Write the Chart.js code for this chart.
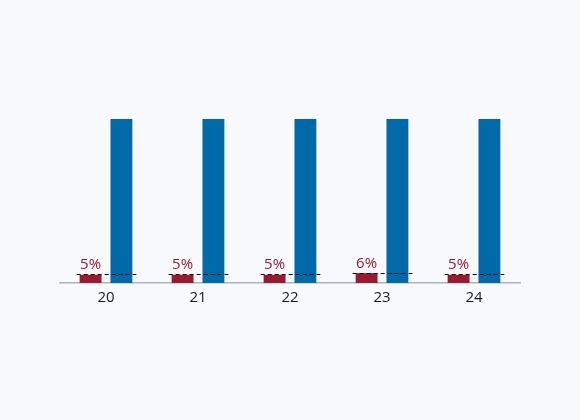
<!DOCTYPE html>
<html>
<head>
<meta charset="utf-8">
<script src="https://cdn.jsdelivr.net/npm/chart.js@4"></script>
<style>
html,body{margin:0;padding:0;background:#f7f9fd;}
#wrap{width:580px;height:420px;}
</style>
</head>
<body>
<div id="wrap"><canvas id="c" width="580" height="420"></canvas></div>
<script>
const categories = ["20", "21", "22", "23", "24"];
const redValues = [5, 5, 5, 6, 5];
const blueValues = [100, 100, 100, 100, 100];
const dashedValues = [5.2, 5.2, 5.3, 6.2, 5.3];
const redLabels = ["5%", "5%", "5%", "6%", "5%"];

const RED = "#9b1a2f";
const BLUE = "#006aa8";

const overlay = {
  id: "overlay",
  afterDatasetsDraw(chart) {
    const ctx = chart.ctx;
    const y = chart.scales.y;
    const redMeta = chart.getDatasetMeta(0);
    const blueMeta = chart.getDatasetMeta(1);
    ctx.save();
    ctx.strokeStyle = "#000";
    ctx.lineWidth = 1;
    ctx.setLineDash([4, 3]);
    dashedValues.forEach((v, i) => {
      const r = redMeta.data[i], b = blueMeta.data[i];
      const x0 = r.x - r.width / 2 - 3;
      const x1 = b.x + b.width / 2 + 4;
      const py = Math.round(y.getPixelForValue(v)) + 0.5;
      ctx.beginPath();
      ctx.moveTo(x0, py);
      ctx.lineTo(x1, py);
      ctx.stroke();
    });
    ctx.setLineDash([]);
    ctx.fillStyle = RED;
    ctx.font = "15px 'Open Sans'";
    ctx.textAlign = "center";
    ctx.textBaseline = "alphabetic";
    redLabels.forEach((t, i) => {
      const r = redMeta.data[i];
      const py = y.getPixelForValue(dashedValues[i]) - 5;
      ctx.fillText(t, r.x, py);
    });
    ctx.restore();
  }
};

new Chart(document.getElementById("c"), {
  type: "bar",
  data: {
    labels: categories,
    datasets: [
      { data: redValues, backgroundColor: RED, categoryPercentage: 0.67, barPercentage: 0.71 },
      { data: blueValues, backgroundColor: BLUE, categoryPercentage: 0.67, barPercentage: 0.71 }
    ]
  },
  options: {
    responsive: false,
    animation: false,
    devicePixelRatio: 1,
    layout: { padding: { left: 60, right: 60, top: 119, bottom: 107 } },
    plugins: { legend: { display: false }, tooltip: { enabled: false } },
    scales: {
      x: {
        grid: { display: false, drawTicks: false },
        border: { display: true, color: "#a9b4bc", width: 1.5 },
        ticks: { color: "#1a1a1a", padding: 6, font: { family: "'Open Sans'", size: 15 } }
      },
      y: {
        display: false,
        min: 0,
        max: 100
      }
    }
  },
  plugins: [overlay]
});
</script>
</body>
</html>
